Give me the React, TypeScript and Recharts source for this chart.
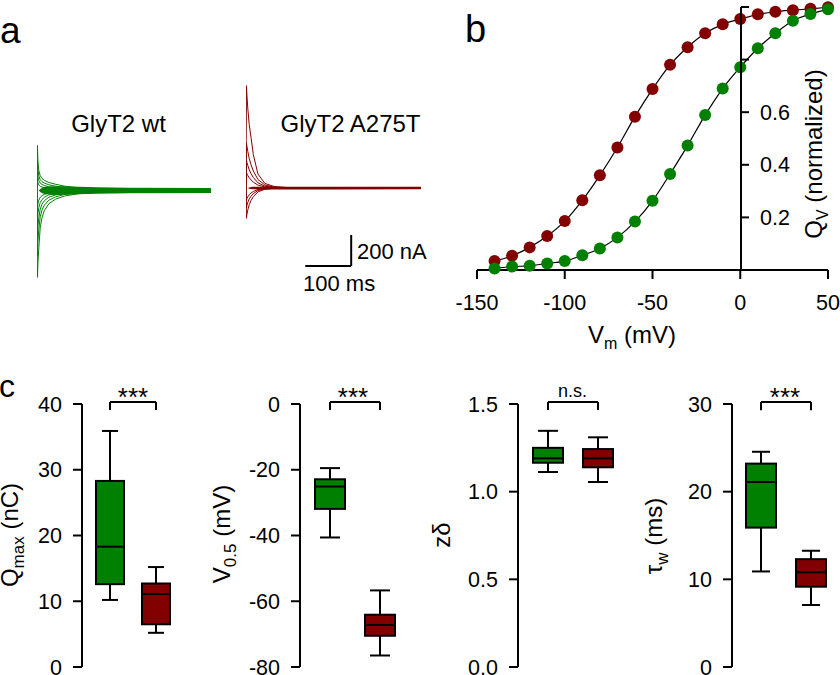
import React from "react"
import { ComposedChart, Line, Area, Bar, XAxis, YAxis, ReferenceLine } from "recharts"

const FONT = '"Liberation Sans", Arial, Helvetica, sans-serif'
const GREEN = "#008000"
const RED = "#820000"

// ---- panel a: charge-movement traces (time in ms, current in nA) ----
const traceTime = [-1, 0, 1, 3, 6, 10, 15, 25, 40, 60, 90, 130, 200, 380]

const wtTraces = [
  [0, -560, -470, -370, -240, -175, -130, -85, -55, -35, -20, -10, -3, 0],
  [0, -420, -330, -250, -170, -125, -95, -62, -40, -25, -14, -7, -2, 0],
  [0, -300, -230, -175, -120, -88, -66, -43, -28, -18, -10, -5, -1, 0],
  [0, -190, -150, -110, -78, -58, -44, -28, -18, -11, -6, -3, -1, 0],
  [0, -110, -85, -62, -44, -33, -25, -16, -10, -6, -3, -2, 0, 0],
  [0, 290, 190, 130, 95, 78, 66, 52, 40, 28, 17, 9, 3, 0],
  [0, 200, 135, 95, 70, 57, 48, 37, 28, 19, 11, 6, 2, 0],
  [0, 130, 90, 64, 48, 39, 32, 24, 18, 12, 7, 4, 1, 0],
  [0, 70, 50, 36, 27, 22, 18, 13, 9, 6, 4, 2, 0, 0],
]
const wtNoise = [0, 0, 0, 0, 10, 16, 22, 26, 28, 27, 24, 21, 18, 16]

const mutTraces = [
  [0, 660, 600, 510, 410, 325, 215, 90, 30, 10, 3, 0, 0, 0],
  [0, 290, 270, 235, 190, 150, 110, 55, 20, 6, 1, 0, 0, 0],
  [0, 180, 165, 145, 118, 92, 68, 34, 12, 4, 1, 0, 0, 0],
  [0, 100, 92, 80, 66, 52, 38, 19, 7, 2, 0, 0, 0, 0],
  [0, -195, -170, -140, -108, -80, -55, -25, -8, -2, 0, 0, 0, 0],
  [0, -130, -112, -92, -70, -52, -36, -16, -5, -1, 0, 0, 0, 0],
  [0, -78, -68, -56, -43, -32, -22, -10, -3, -1, 0, 0, 0, 0],
]
const mutNoise = [0, 0, 0, 0, 4, 6, 8, 9, 9, 9, 9, 9, 9, 8]

// scale bar: 100 ms x 200 nA
const scaleBarStart = { t: 128, i: -503 }
const scaleBarMs = 100
const scaleBarNa = 200

// ---- panel b: Q-V relation ----
const voltages = [-140, -130, -120, -110, -100, -90, -80, -70, -60, -50, -40, -30, -20, -10, 0, 10, 20, 30, 40, 50]
const qvWt = [0.006, 0.013, 0.016, 0.025, 0.034, 0.056, 0.082, 0.124, 0.184, 0.263, 0.365, 0.473, 0.589, 0.69, 0.771, 0.843, 0.9, 0.948, 0.973, 0.991]
const qvMut = [0.034, 0.054, 0.086, 0.129, 0.186, 0.265, 0.36, 0.466, 0.583, 0.688, 0.78, 0.847, 0.9, 0.934, 0.954, 0.972, 0.982, 0.988, 0.993, 0.999]
const vmTicks = [-150, -100, -50, 0, 50]
const qvTicks = [0.2, 0.4, 0.6, 0.8, 1.0]

// ---- panel c: box plots [min, q1, median, q3, max] ----
const qmaxWt = [10.2, 12.6, 18.3, 28.3, 35.9]
const qmaxMut = [5.2, 6.5, 11.1, 12.7, 15.2]
const v05Wt = [-40.6, -31.9, -25.1, -22.9, -19.5]
const v05Mut = [-76.5, -70.5, -67.2, -64.1, -56.7]
const zdWt = [1.112, 1.165, 1.19, 1.25, 1.347]
const zdMut = [1.055, 1.139, 1.19, 1.243, 1.31]
const tauWt = [10.9, 15.9, 21.1, 23.2, 24.55]
const tauMut = [7.07, 9.16, 10.8, 12.3, 13.26]

const axisStyle = { stroke: "#000", strokeWidth: 2 }
const tickStyle = { fill: "#000", fontSize: 21.5, fontFamily: FONT }

function TraceChart({ left, top, width, height, margin, traces, noise, color, yDomain, bar }: any) {
  const rows = traceTime.map((t, i) => {
    const row: any = { t, band: [-noise[i], noise[i]] }
    traces.forEach((tr: number[], k: number) => { row["s" + k] = tr[i] })
    return row
  })
  return (
    <div style={{ position: "absolute", left, top }}>
      <ComposedChart width={width} height={height} data={rows} margin={margin}>
        <XAxis dataKey="t" type="number" domain={[-1, 380]} hide allowDataOverflow />
        <YAxis type="number" domain={yDomain} hide allowDataOverflow />
        <Area dataKey="band" type="linear" fill={color} fillOpacity={1} stroke="none" isAnimationActive={false} />
        {traces.map((_: any, k: number) => (
          <Line key={k} dataKey={"s" + k} type="linear" stroke={color} strokeWidth={1} dot={false} isAnimationActive={false} />
        ))}
        {bar && (
          <ReferenceLine
            segment={[{ x: scaleBarStart.t, y: scaleBarStart.i }, { x: scaleBarStart.t + scaleBarMs, y: scaleBarStart.i }]}
            stroke="#000" strokeWidth={2}
          />
        )}
        {bar && (
          <ReferenceLine
            segment={[{ x: scaleBarStart.t + scaleBarMs, y: scaleBarStart.i }, { x: scaleBarStart.t + scaleBarMs, y: scaleBarStart.i + scaleBarNa }]}
            stroke="#000" strokeWidth={2}
          />
        )}
      </ComposedChart>
    </div>
  )
}

function BoxShape(props: any) {
  const { x, y, width, height, payload } = props
  const [lo, q1, med, q3, hi] = payload.stats
  const top = Math.min(y, y + height)
  const bot = Math.max(y, y + height)
  const py = (v: number) => bot - ((v - lo) / (hi - lo)) * (bot - top)
  const cx = x + width / 2
  const c = payload.cap / 2
  return (
    <g>
      <line x1={cx} x2={cx} y1={py(hi)} y2={py(lo)} stroke="#000" strokeWidth={2} />
      <line x1={cx - c} x2={cx + c} y1={py(hi)} y2={py(hi)} stroke="#000" strokeWidth={2} />
      <line x1={cx - c} x2={cx + c} y1={py(lo)} y2={py(lo)} stroke="#000" strokeWidth={2} />
      <rect x={x} y={py(q3)} width={width} height={py(q1) - py(q3)} fill={payload.color} stroke="#000" strokeWidth={2} />
      <line x1={x} x2={x + width} y1={py(med)} y2={py(med)} stroke="#000" strokeWidth={2} />
    </g>
  )
}

function BoxPanel({ axisX, wt, mut, domain, ticks, fmt, pad, band, boxW, cap, bracket }: any) {
  const plotW = pad + 2 * band
  const rows = [
    { name: "wt", range: [wt[0], wt[4]], stats: wt, color: GREEN, cap },
    { name: "A275T", range: [mut[0], mut[4]], stats: mut, color: RED, cap },
  ]
  return (
    <div style={{ position: "absolute", left: axisX - 90, top: 370 }}>
      <ComposedChart width={90 + plotW + 10} height={310} data={rows} margin={{ top: 34, right: 10, bottom: 13, left: 0 }}>
        <XAxis dataKey="name" type="category" hide padding={{ left: pad, right: 0 }} />
        <YAxis
          width={90} type="number" domain={domain} ticks={ticks} interval={0}
          tickFormatter={fmt} tickSize={9} tickMargin={11}
          axisLine={axisStyle} tickLine={axisStyle} tick={tickStyle}
        />
        <Bar dataKey="range" barSize={boxW} shape={BoxShape} isAnimationActive={false} />
        <ReferenceLine segment={[{ x: "wt", y: bracket[0] }, { x: "A275T", y: bracket[0] }]} stroke="#000" strokeWidth={2} ifOverflow="visible" />
        <ReferenceLine segment={[{ x: "wt", y: bracket[0] }, { x: "wt", y: bracket[1] }]} stroke="#000" strokeWidth={2} ifOverflow="visible" />
        <ReferenceLine segment={[{ x: "A275T", y: bracket[0] }, { x: "A275T", y: bracket[1] }]} stroke="#000" strokeWidth={2} ifOverflow="visible" />
      </ComposedChart>
    </div>
  )
}

const qvTick = (p: any) =>
  p.payload.value <= 0.6 ? (
    <text x={p.x} y={p.y} dy="0.355em" textAnchor="start" fill="#000" fontSize={21.5} fontFamily={FONT}>
      {p.payload.value.toFixed(1)}
    </text>
  ) : (
    <g />
  )

export default function App() {
  const qvRows = voltages.map((v, i) => ({ v, wt: qvWt[i], mut: qvMut[i] }))
  return (
    <div style={{ position: "relative", width: 840, height: 675, overflow: "hidden", background: "#fff", fontFamily: FONT }}>
      <style>{`body{margin:0}`}</style>

      <TraceChart
        left={0} top={100} width={240} height={220}
        margin={{ top: 35, right: 29, bottom: 35, left: 37 }}
        traces={wtTraces} noise={wtNoise} color={GREEN} yDomain={[-609, 358]}
      />
      <TraceChart
        left={230} top={60} width={220} height={240}
        margin={{ top: 20, right: 29, bottom: 25, left: 16 }}
        traces={mutTraces} noise={mutNoise} color={RED} yDomain={[-561, 697]} bar
      />

      <div style={{ position: "absolute", left: 440, top: 0 }}>
        <ComposedChart width={400} height={330} data={qvRows} margin={{ top: 7, right: 12, bottom: 20, left: 37 }}>
          <XAxis
            dataKey="v" type="number" domain={[-150, 50]} ticks={vmTicks} interval={0} height={40}
            tickSize={9} tickMargin={16} axisLine={axisStyle} tickLine={axisStyle} tick={tickStyle}
          />
          <YAxis type="number" domain={[0, 1]} hide />
          <Line dataKey="mut" type="monotone" stroke="#000" strokeWidth={1.2} dot={false} isAnimationActive={false} />
          <Line dataKey="wt" type="monotone" stroke="#000" strokeWidth={1.2} dot={false} isAnimationActive={false} />
          <Line dataKey="mut" stroke="none" dot={{ r: 6, fill: RED, stroke: "none" }} isAnimationActive={false} />
          <Line dataKey="wt" stroke="none" dot={{ r: 6, fill: GREEN, stroke: "none" }} isAnimationActive={false} />
        </ComposedChart>
      </div>
      <div style={{ position: "absolute", left: 640, top: 0 }}>
        <ComposedChart width={200} height={280} data={qvRows} margin={{ top: 7, right: 0, bottom: 10, left: 0 }}>
          <XAxis dataKey="v" type="number" domain={[-150, 50]} hide />
          <YAxis
            orientation="right" width={99} type="number" domain={[0, 1]} ticks={qvTicks} interval={0}
            tickSize={8} tickMargin={11} axisLine={axisStyle} tickLine={axisStyle} tick={qvTick}
          />
          <Line dataKey="wt" stroke="none" dot={false} isAnimationActive={false} />
        </ComposedChart>
      </div>

      <BoxPanel axisX={82} wt={qmaxWt} mut={qmaxMut} domain={[0, 40]} ticks={[0, 10, 20, 30, 40]}
        pad={5} band={46} boxW={28} cap={16} bracket={[40.3, 39.1]} />
      <BoxPanel axisX={300} wt={v05Wt} mut={v05Mut} domain={[-80, 0]} ticks={[-80, -60, -40, -20, 0]}
        pad={5} band={50} boxW={30} cap={20} bracket={[0.6, -1.8]} />
      <BoxPanel axisX={518} wt={zdWt} mut={zdMut} domain={[0, 1.5]} ticks={[0, 0.5, 1, 1.5]}
        fmt={(v: number) => v.toFixed(1)} pad={5} band={50} boxW={30} cap={20} bracket={[1.511, 1.466]} />
      <BoxPanel axisX={732} wt={tauWt} mut={tauMut} domain={[0, 30]} ticks={[0, 10, 20, 30]}
        pad={4} band={50} boxW={30} cap={18} bracket={[30.23, 29.3]} />

      <svg width={840} height={675} style={{ position: "absolute", left: 0, top: 0, pointerEvents: "none" }} fontFamily={FONT} fill="#000">
        <text x={0} y={43} fontSize={37}>a</text>
        <text x={465} y={42} fontSize={38}>b</text>
        <text x={-1} y={397} fontSize={32}>c</text>
        <text x={118.5} y={132} fontSize={24} textAnchor="middle">GlyT2 wt</text>
        <text x={350.5} y={132} fontSize={24} textAnchor="middle">GlyT2 A275T</text>
        <text x={357} y={259} fontSize={22}>200 nA</text>
        <text x={303} y={291} fontSize={22}>100 ms</text>
        <text x={632} y={343} fontSize={24} textAnchor="middle">
          V<tspan fontSize={16} dy={6}>m</tspan><tspan dy={-6}> (mV)</tspan>
        </text>
        <text transform="translate(822,154) rotate(-90)" fontSize={24} textAnchor="middle">
          Q<tspan fontSize={16} dy={6}>V</tspan><tspan dy={-6}> (normalized)</tspan>
        </text>
        <text transform="translate(18,535) rotate(-90)" fontSize={24} textAnchor="middle">
          Q<tspan fontSize={17} dy={6}>max</tspan><tspan dy={-6}> (nC)</tspan>
        </text>
        <text transform="translate(230,534) rotate(-90)" fontSize={24} textAnchor="middle">
          V<tspan fontSize={17} dy={6}>0.5</tspan><tspan dy={-6}> (mV)</tspan>
        </text>
        <text transform="translate(450,535) rotate(-90)" fontSize={24} textAnchor="middle">zδ</text>
        <text transform="translate(662,536) rotate(-90)" fontSize={24} textAnchor="middle">
          τ<tspan fontSize={17} dy={6}>w</tspan><tspan dy={-6}> (ms)</tspan>
        </text>
        <text x={133} y={406} fontSize={26} textAnchor="middle">***</text>
        <text x={353} y={406} fontSize={26} textAnchor="middle">***</text>
        <text x={572.5} y={397} fontSize={18} textAnchor="middle">n.s.</text>
        <text x={785} y={406} fontSize={26} textAnchor="middle">***</text>
      </svg>
    </div>
  )
}
